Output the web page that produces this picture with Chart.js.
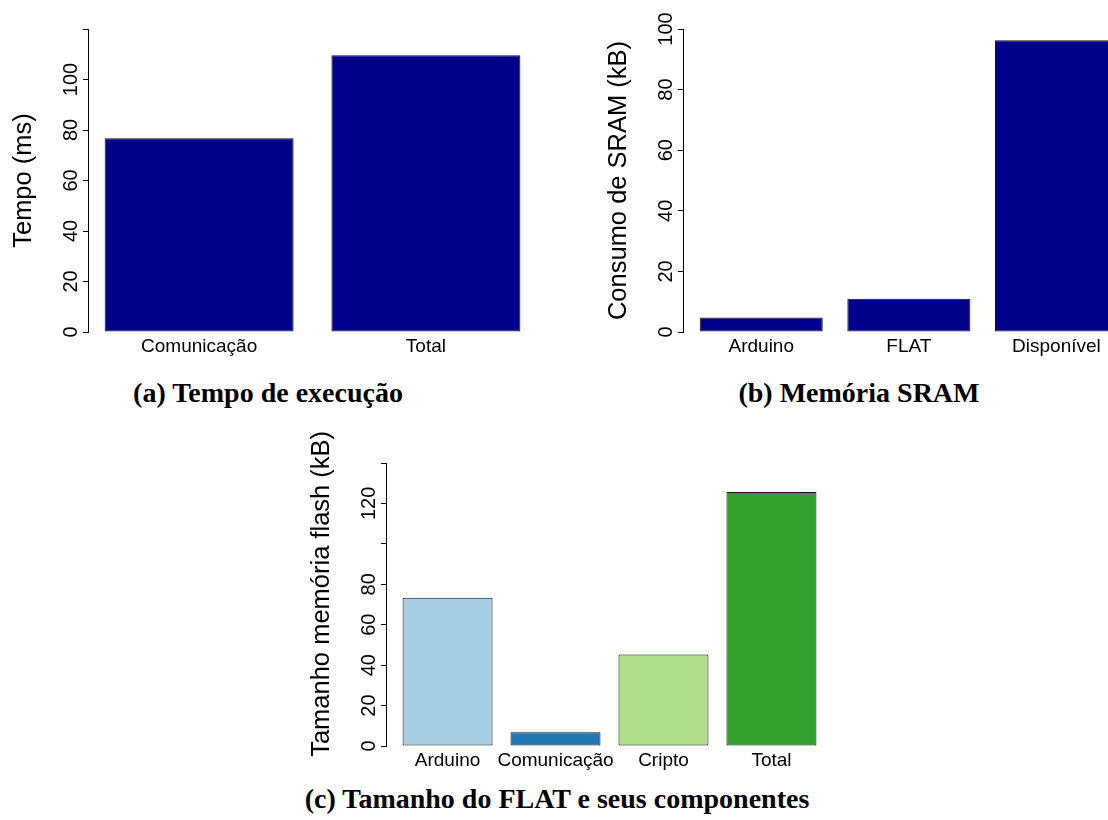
<!DOCTYPE html>
<html><head><meta charset="utf-8">
<script src="https://cdn.jsdelivr.net/npm/chart.js@4.4.1/dist/chart.umd.min.js"></script>
<style>
html,body{margin:0;padding:0;background:#fff;width:1108px;height:820px;overflow:hidden;position:relative;}
canvas{position:absolute;}
.cap{position:absolute;font-family:'Liberation Serif','Times New Roman',serif;font-weight:bold;font-size:28px;line-height:31px;text-align:center;white-space:nowrap;color:#000;}
</style></head><body>
<canvas id="ca" width="560" height="360" style="left:0px;top:0px;width:560px;height:360px"></canvas>
<canvas id="cb" width="600" height="360" style="left:560px;top:0px;width:600px;height:360px"></canvas>
<canvas id="cc" width="560" height="360" style="left:290px;top:420px;width:560px;height:360px"></canvas>
<div class="cap" style="left:68px;top:377px;width:400px">(a) Tempo de execução</div>
<div class="cap" style="left:659px;top:377px;width:400px">(b) Memória SRAM</div>
<div class="cap" style="left:257px;top:783px;width:600px">(c) Tamanho do FLAT e seus componentes</div>
<script>
// ---- data ----
const tempoCats = ['Comunicação', 'Total'];
const tempoVals = [76.7, 109.6];
const tempoTicks = ['0', '20', '40', '60', '80', '100', ''];

const sramCats = ['Arduino', 'FLAT', 'Disponível'];
const sramVals = [4.8, 11.0, 96.3];
const sramTicks = ['0', '20', '40', '60', '80', '100'];

const flashCats = ['Arduino', 'Comunicação', 'Cripto', 'Total'];
const flashVals = [73.3, 6.8, 45.3, 125.7];
const flashTicks = ['0', '20', '40', '60', '80', '', '120', ''];

const navy = '#00008B';
const flashColors = ['#A6CEE3', '#1F78B4', '#B2DF8A', '#33A02C'];

const SANS = "'Liberation Sans', Arial, Helvetica, sans-serif";

function makeChart(id, cats, vals, colors, yMax, tickLabels, yTitle, g) {
  const n = cats.length;
  const span = 1.2 * n - 0.2;
  const xmin = 0.2 - 0.04 * span, xmax = 1.2 * n + 0.04 * span;
  const pos = cats.map((c, i) => 0.7 + 1.2 * i);
  return new Chart(document.getElementById(id), {
    type: 'bar',
    data: {
      datasets: [{
        data: vals.map((v, i) => ({ x: pos[i], y: v })),
        backgroundColor: colors,
        borderColor: '#111',
        borderWidth: 1,
        borderSkipped: false,
        categoryPercentage: 1,
        barPercentage: 1 / 1.2
      }]
    },
    options: {
      responsive: false,
      animation: false,
      devicePixelRatio: 1,
      layout: { padding: g.pad },
      plugins: { legend: { display: false }, tooltip: { enabled: false } },
      scales: {
        x: {
          type: 'linear',
          offset: false,
          min: xmin, max: xmax,
          grid: { display: false, drawTicks: false, offset: false },
          border: { display: false },
          afterBuildTicks: (ax) => { ax.ticks = pos.map(p => ({ value: p })); },
          afterFit: (s) => { s.height = g.Xh; },
          ticks: {
            autoSkip: false, maxRotation: 0, minRotation: 0,
            padding: g.xPad,
            color: '#000',
            font: { family: SANS, size: 19 },
            callback: (v, i) => cats[i]
          }
        },
        y: {
          min: 0, max: yMax,
          afterFit: (s) => { s.width = g.Yw; },
          grid: { display: true, drawOnChartArea: false, drawTicks: true, tickLength: 5, color: '#000', lineWidth: 1 },
          border: { display: true, color: '#000', width: 1 },
          ticks: {
            stepSize: 20, autoSkip: false,
            minRotation: 90, maxRotation: 90,
            crossAlign: 'center',
            padding: -5,
            color: '#000',
            font: { family: SANS, size: 20 },
            callback: (v, i) => tickLabels[i]
          },
          title: {
            display: true, text: yTitle, color: '#000',
            font: { family: SANS, size: 25.5 },
            padding: { top: g.titlePad, bottom: 0 }
          }
        }
      }
    }
  });
}

makeChart('ca', tempoCats, tempoVals, navy, 120, tempoTicks, 'Tempo (ms)',
  { pad: { left: 0, top: 29, right: 23, bottom: 0 }, Yw: 88, Xh: 28, xPad: 3, titlePad: 9 });
makeChart('cb', sramCats, sramVals, navy, 100, sramTicks, 'Consumo de SRAM (kB)',
  { pad: { left: 0, top: 29, right: 25.3, bottom: 0 }, Yw: 123, Xh: 28, xPad: 3, titlePad: 43.2 });
makeChart('cc', flashCats, flashVals, flashColors, 140, flashTicks, '   Tamanho memória flash (kB)',
  { pad: { left: 0, top: 43, right: 17, bottom: 0 }, Yw: 96, Xh: 34, xPad: 3, titlePad: 16.2 });
</script>
</body></html>
